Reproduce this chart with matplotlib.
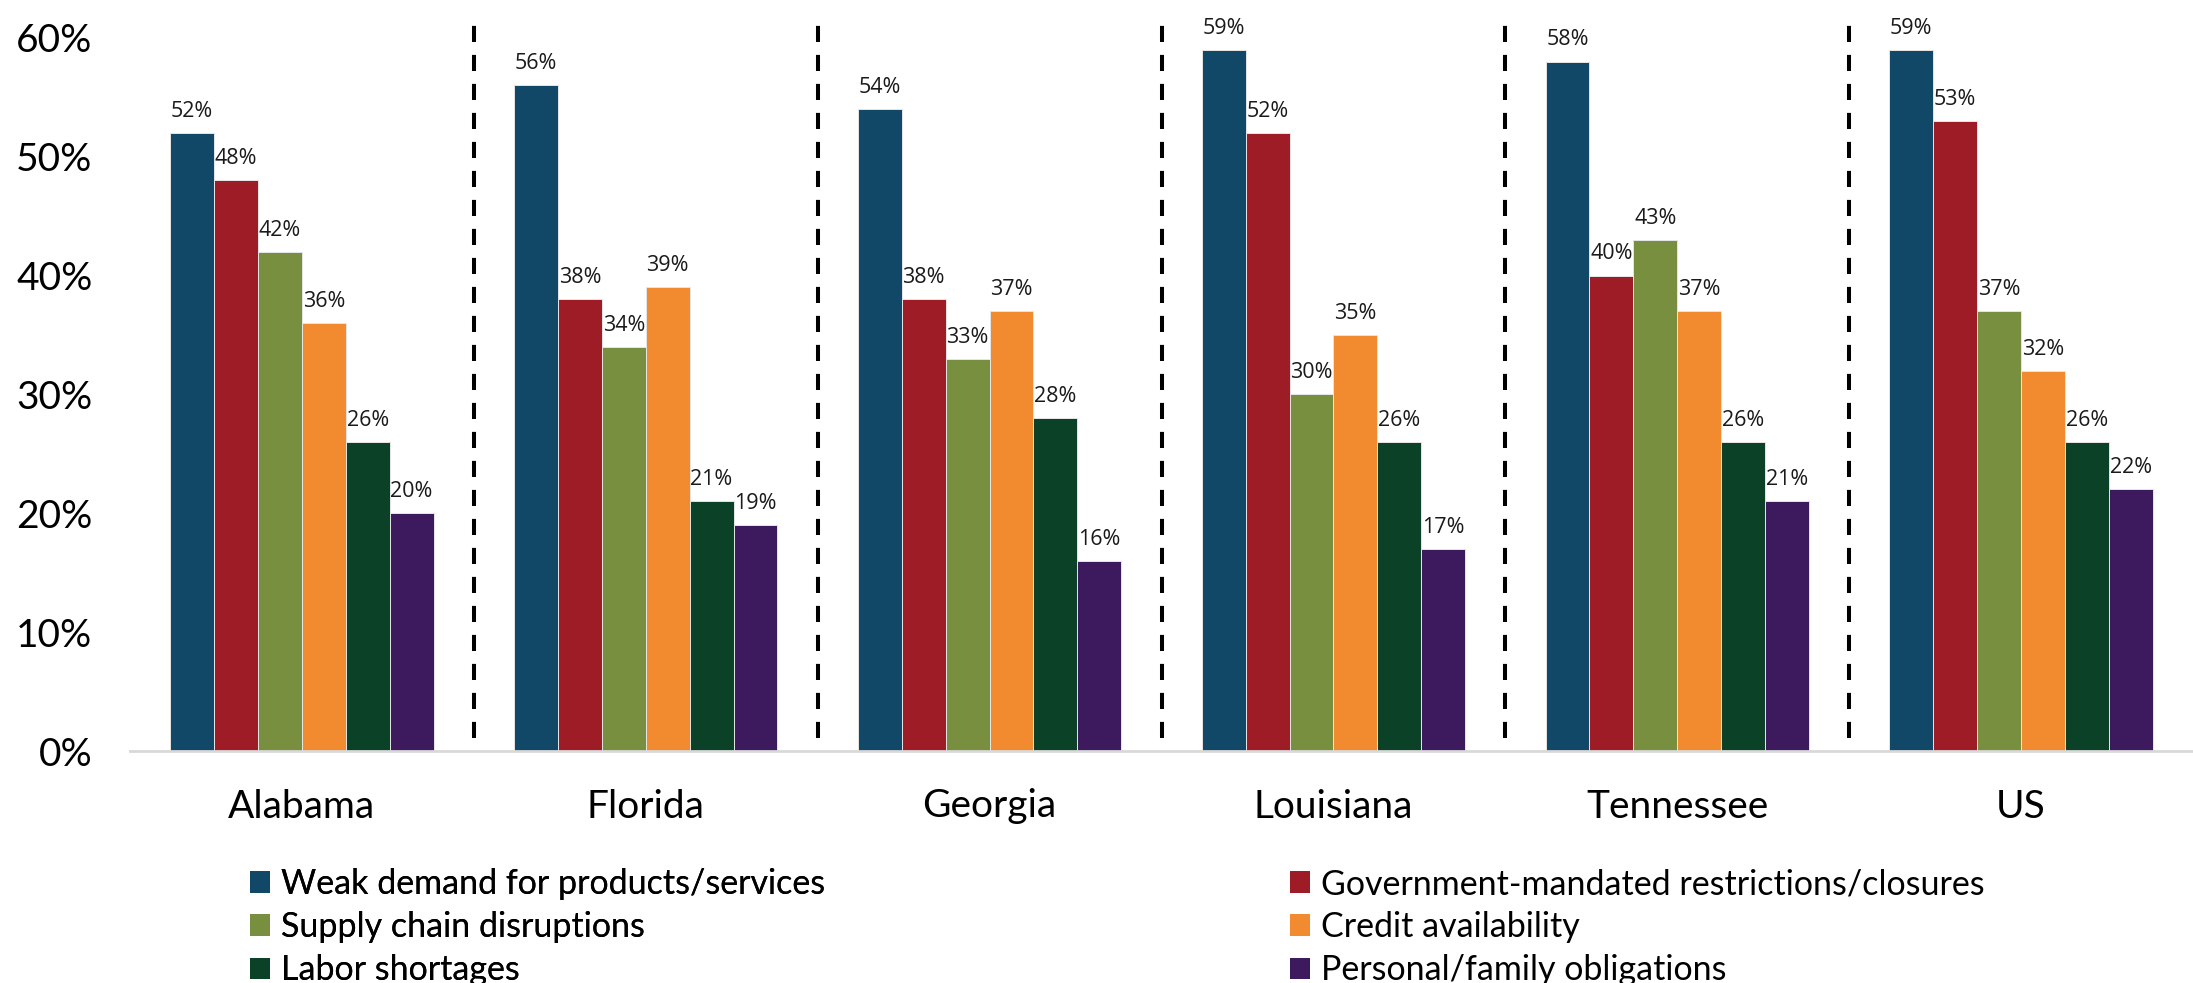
import numpy as np
import matplotlib
matplotlib.use("Agg")
import matplotlib.pyplot as plt
from matplotlib.patches import Patch

# Share of businesses citing each challenge, by state
regions = ["Alabama", "Florida", "Georgia", "Louisiana", "Tennessee", "US"]
weak_demand = [52, 56, 54, 59, 58, 59]
gov_restrictions = [48, 38, 38, 52, 40, 53]
supply_chain = [42, 34, 33, 30, 43, 37]
credit = [36, 39, 37, 35, 37, 32]
labor = [26, 21, 28, 26, 26, 26]
personal = [20, 19, 16, 17, 21, 22]

series_names = [
    "Weak demand for products/services",
    "Government-mandated restrictions/closures",
    "Supply chain disruptions",
    "Credit availability",
    "Labor shortages",
    "Personal/family obligations",
]
series_values = [weak_demand, gov_restrictions, supply_chain, credit, labor, personal]
colors = ["#114767", "#9E1C25", "#788F40", "#F28A30", "#0B4227", "#3D1A5E"]

label_font = "Lato"
value_font = "Open Sans"


def main():
    fig = plt.figure(figsize=(21.93, 9.83), dpi=100)
    ax = fig.add_axes([130 / 2193, 1 - 751 / 983, 1 - 130 / 2193, 737 / 983])

    x = np.arange(len(regions))
    bar_w = 0.1277
    n = len(series_values)

    for i, (vals, col) in enumerate(zip(series_values, colors)):
        pos = x + (i - (n - 1) / 2) * bar_w
        frac = np.array(vals) / 100
        bars = ax.bar(pos, frac, width=bar_w, color=col,
                      edgecolor="#e6e6e6", linewidth=0.7, zorder=2)
        for b, v in zip(bars, vals):
            ax.annotate(f"{v}%", (b.get_x() + b.get_width() / 2, b.get_height()),
                        xytext=(0, 8), textcoords="offset points",
                        ha="center", va="bottom", fontsize=15.5,
                        family=value_font, color="#1a1a1a")

    # dashed separators between the groups
    for k in range(len(regions) - 1):
        ax.plot([k + 0.5, k + 0.5], [0.011, 0.612], color="black", lw=2.9,
                linestyle=(0, (4, 3.2)), clip_on=False, zorder=3)

    ax.set_xlim(-0.5, 5.5)
    ax.set_ylim(0, 0.62)
    ticks = np.arange(0, 0.61, 0.1)
    ax.set_yticks(ticks)
    ax.set_yticklabels([f"{int(round(t * 100))}%" for t in ticks],
                       family=label_font, fontsize=28)
    ax.set_xticks(x)
    ax.set_xticklabels(regions, family=label_font, fontsize=28)
    ax.tick_params(axis="both", length=0)
    ax.tick_params(axis="y", pad=27)
    ax.tick_params(axis="x", pad=27)

    for side in ["left", "right", "top"]:
        ax.spines[side].set_visible(False)
    ax.spines["bottom"].set_color("#d9d9d9")
    ax.spines["bottom"].set_linewidth(2)

    handles = [Patch(facecolor=c) for c in colors]
    leg_kw = dict(frameon=False, loc="upper left",
                  handlelength=0.6, handleheight=0.6, handletextpad=0.3,
                  labelspacing=0.33, borderpad=0, borderaxespad=0,
                  prop={"family": label_font, "size": 24.5})
    left_idx = [0, 2, 4]
    right_idx = [1, 3, 5]
    leg1 = fig.legend([handles[i] for i in left_idx], [series_names[i] for i in left_idx],
                      bbox_to_anchor=(250 / 2193, 1 - 868 / 983), **leg_kw)
    fig.add_artist(leg1)
    fig.legend([handles[i] for i in right_idx], [series_names[i] for i in right_idx],
               bbox_to_anchor=(1290 / 2193, 1 - 868 / 983), **leg_kw)

    fig.savefig("out.png", dpi=100)


if __name__ == "__main__":
    main()
